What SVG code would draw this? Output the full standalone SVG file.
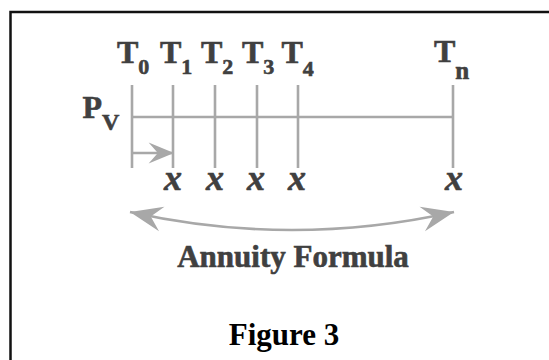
<svg xmlns="http://www.w3.org/2000/svg" width="549" height="360" viewBox="0 0 549 360">
  <style>
    .frame { fill: #ffffff; stroke: #111111; stroke-width: 2.5; }
    .tick { stroke: #a8a8a8; stroke-width: 2.6; fill: none; }
    .head { fill: #a8a8a8; }
    .lbl { font-family: "Liberation Serif", "Times New Roman", serif; font-weight: bold; fill: #404040; stroke: #404040; stroke-width: 0.6; }
    .var { font-family: "Liberation Serif", "Times New Roman", serif; font-weight: bold; font-style: italic; fill: #404040; stroke: #404040; stroke-width: 0.6; font-size: 36px; text-anchor: middle; }
    .caption { font-family: "Liberation Serif", "Times New Roman", serif; font-weight: bold; fill: #000000; font-size: 31px; text-anchor: middle; }
  </style>
  <defs>
    <marker id="barb" markerUnits="userSpaceOnUse" markerWidth="40" markerHeight="30" viewBox="-28 -12 30 24" refX="0" refY="0" orient="auto-start-reverse">
      <path class="head" d="M0,0 L-26,-10 L-17,0 L-26,10 Z"/>
    </marker>
    <marker id="smallbarb" markerUnits="userSpaceOnUse" markerWidth="30" markerHeight="24" viewBox="-24 -10 26 20" refX="0" refY="0" orient="auto">
      <path class="head" d="M0,0 L-22,-9 L-14,0 L-22,9 Z"/>
    </marker>
  </defs>

  <!-- outer frame, running off the right and bottom edges -->
  <rect class="frame" x="10.5" y="12" width="600" height="400"/>

  <!-- time-line labels -->
  <g id="label-t0"><text class="lbl" x="117" y="63" font-size="32">T<tspan font-size="22" dy="11">0</tspan></text></g>
  <g id="label-t1"><text class="lbl" x="160" y="63" font-size="32">T<tspan font-size="22" dy="11">1</tspan></text></g>
  <g id="label-t2"><text class="lbl" x="201" y="63" font-size="32">T<tspan font-size="22" dy="11">2</tspan></text></g>
  <g id="label-t3"><text class="lbl" x="242" y="63" font-size="32">T<tspan font-size="22" dy="11">3</tspan></text></g>
  <g id="label-t4"><text class="lbl" x="281.5" y="63" font-size="32">T<tspan font-size="22" dy="13">4</tspan></text></g>
  <g id="label-tn"><text class="lbl" x="434" y="62" font-size="32">T<tspan font-size="25" dy="17">n</tspan></text></g>
  <g id="label-pv"><text class="lbl" x="82.5" y="117.5" font-size="32">P<tspan font-size="24" dy="12">V</tspan></text></g>

  <!-- payment symbols -->
  <g id="payments">
    <text class="var" x="173" y="190">x</text>
    <text class="var" x="215" y="190">x</text>
    <text class="var" x="256" y="190">x</text>
    <text class="var" x="297" y="190">x</text>
    <text class="var" x="454" y="190">x</text>
  </g>

  <!-- connectors: time axis, ticks and arrows -->
  <g id="connectors">
    <line class="tick" x1="132" y1="117" x2="453" y2="117"/>
    <line class="tick" x1="132" y1="85" x2="132" y2="168"/>
    <line class="tick" x1="173" y1="85" x2="173" y2="168"/>
    <line class="tick" x1="215" y1="85" x2="215" y2="168"/>
    <line class="tick" x1="257" y1="85" x2="257" y2="168"/>
    <line class="tick" x1="298" y1="85" x2="298" y2="168"/>
    <line class="tick" x1="453" y1="85" x2="453" y2="168"/>
    <line class="tick" x1="132" y1="153" x2="174" y2="153" marker-end="url(#smallbarb)"/>
    <path class="tick" d="M130,212 Q292,248 454,212" marker-start="url(#barb)" marker-end="url(#barb)"/>
  </g>

  <g id="formula-label"><text class="lbl" x="293" y="267" font-size="31" text-anchor="middle">Annuity Formula</text></g>
  <g id="caption"><text class="caption" x="284" y="345">Figure 3</text></g>
</svg>
